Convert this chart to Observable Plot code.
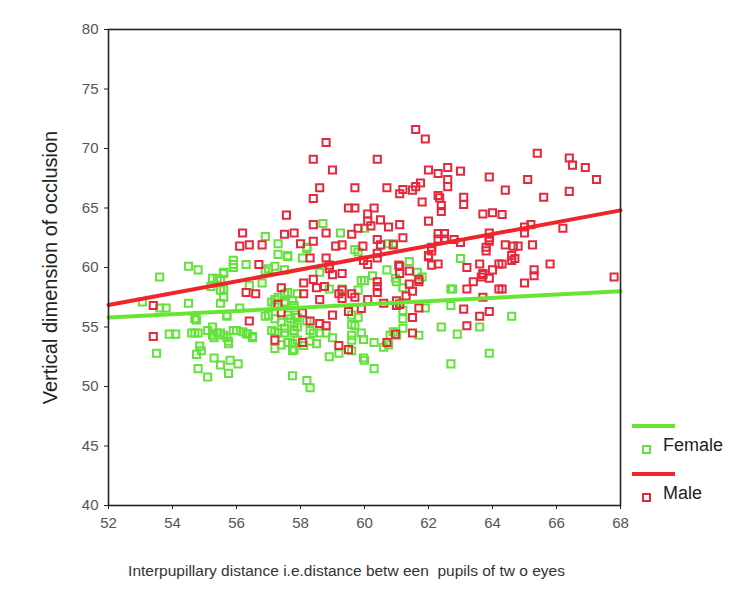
<!DOCTYPE html>
<html>
<head>
<meta charset="utf-8">
<script src="https://cdn.jsdelivr.net/npm/d3@7"></script>
<script src="https://cdn.jsdelivr.net/npm/@observablehq/plot@0.6"></script>
<style>
  body { margin: 0; background: #fff; }
  #wrap { position: relative; width: 750px; height: 610px; font-family: "Liberation Sans", Arial, sans-serif; }
  #legend { position: absolute; left: 632px; top: 418px; font-size: 18px; color: #222; }
  .row { position: relative; height: 24px; }
  .ln { position: absolute; left: 0; width: 43px; height: 4px; }
  .sym { position: absolute; left: 10px; width: 5px; height: 5px; border: 2px solid; }
  .lab { position: absolute; left: 31px; }
</style>
</head>
<body>
<div id="wrap"></div>
<script>
const xTicks = [52, 54, 56, 58, 60, 62, 64, 66, 68];
const yTicks = [40, 45, 50, 55, 60, 65, 70, 75, 80];
const seriesNames = ["Female", "Male"];
const xTitle = "Interpupillary distance i.e.distance betw een  pupils of tw o eyes";
const yTitle = "Vertical dimension of occlusion";

const female = [
[56.9,62.6],[57.3,62.0],[57.3,61.1],[57.6,60.9],[55.9,60.6],[55.9,60.25],[56.3,60.25],[57.2,60.1],[54.5,60.1],[54.8,59.8],
[56.9,59.7],[57.5,59.8],[53.6,59.2],[55.6,59.5],[55.25,59.1],[55.4,59.1],[56.8,58.7],[55.2,58.4],[55.5,58.1],[56.4,58.5],
[57.5,57.8],[55.6,57.5],[55.5,57.0],[57.2,57.3],[57.2,56.9],[57.5,57.0],[57.75,57.2],[53.06,57.1],[54.5,57.0],[53.6,56.6],
[53.8,56.6],[56.1,56.6],[54.75,55.6],[55.7,55.9],[56.9,55.9],[57.7,55.7],[57.9,55.8],[55.25,55.0],[55.1,54.7],[55.5,54.5],
[53.9,54.4],[54.1,54.4],[54.6,54.5],[54.8,54.5],[55.9,54.7],[56.2,54.6],[56.3,54.45],[57.2,54.6],[57.5,54.5],[57.8,54.7],
[55.3,54.1],[55.7,54.1],[56.5,54.1],[57.4,53.5],[57.75,53.6],[54.85,53.4],[55.75,53.6],[57.2,53.2],[57.75,53.0],[53.5,52.8],
[54.75,52.7],[54.9,53.0],[55.3,52.4],[55.8,52.2],[56.05,51.9],[55.5,51.8],[54.8,51.5],[55.75,51.1],[55.1,50.8],[57.75,50.9],
[58.7,63.7],[59.25,62.9],[60.0,63.3],[58.2,61.7],[59.7,61.5],[60.75,62.0],
[63.0,60.75],[62.7,58.2],[60.7,59.8],[61.0,58.8],[60.0,58.9],[57.9,57.8],[61.9,56.6],[63.6,55.0],[62.4,55.0],[62.9,54.4],
[61.7,54.3],[57.85,56.0],[57.8,55.4],[57.9,55.0],[57.8,54.5],[57.9,53.9],[57.8,53.1],[58.3,54.7],[58.6,54.5],[59.0,54.1],
[59.6,54.3],[59.6,53.9],[59.97,53.95],[59.7,55.1],[59.8,55.8],[60.9,54.6],[61.2,54.9],[61.0,54.3],[60.6,53.3],[58.1,53.45],
[58.9,52.5],[59.2,52.8],[59.97,52.4],[60.0,52.2],[60.3,51.5],[62.7,51.9],[58.2,50.5],[58.3,49.9],[63.9,52.8],[64.6,55.9],
[57.6,61.0],[58.06,60.8],[58.2,61.6],[59.8,61.3],[59.9,58.9],[60.25,59.3],[58.6,59.6],[57.6,57.9],[58.9,58.2],[59.3,58.2],
[59.8,58.1],[57.5,57.1],[57.8,56.8],[57.6,56.0],[57.5,54.9],[58.2,55.5],[58.4,54.5],[58.8,54.5],[57.6,53.7],[58.3,53.8],
[58.5,53.6],[59.6,56.0],[59.6,55.2],[59.9,54.5],[60.3,53.7],[60.8,54.3],[60.75,53.5],[59.6,53.0],
[60.9,62.0],[61.4,60.5],[61.65,59.6],[61.8,59.2],[60.97,59.1],[61.2,58.3],[62.75,58.2],[61.1,57.0],[61.2,56.4],[61.2,55.7],
[62.7,56.8],[55.9,60.0],[55.6,59.6],[55.5,58.9],[57.0,59.9],[55.6,58.2],[54.7,55.7],[55.7,56.0],[57.0,56.0],[57.3,57.5],
[57.1,57.1],[54.7,54.5],[55.4,54.5],[55.25,54.3],[55.6,54.3],[55.75,53.8],[56.0,54.7],[56.35,54.4],[56.5,54.2],[57.1,54.7],
[57.3,54.5],[57.4,55.4],[57.2,55.7]
];

const male = [
[57.56,64.4],[56.19,62.9],[57.5,62.8],[57.8,62.9],[56.1,61.8],[56.4,61.9],[56.8,61.9],[58.0,62.0],
[56.7,60.25],[56.3,57.9],[56.6,57.8],[57.4,58.3],[57.3,56.9],[53.4,56.8],[57.4,56.2],[56.4,55.5],[53.4,54.2],[57.2,53.9],
[61.6,71.6],[61.9,70.8],[58.8,70.5],[58.4,69.1],[60.4,69.1],[59.0,68.2],[62.0,68.2],[62.3,67.9],[62.6,68.4],[63.0,68.1],
[62.6,67.4],[62.6,66.8],[63.9,67.6],[58.6,66.7],[59.7,66.7],[60.7,66.7],[61.1,66.2],[61.2,66.55],[61.5,66.5],[61.6,66.8],
[61.75,67.1],[58.4,65.8],[62.3,66.05],[62.35,65.85],[63.1,65.9],[63.1,65.3],[61.8,65.5],[62.4,65.2],[62.4,64.7],[63.7,64.5],
[59.5,65.0],[59.7,65.0],[60.3,65.0],[60.1,64.5],[60.1,63.9],[60.5,64.0],[60.75,63.4],[61.1,63.6],[62.0,63.9],[58.4,63.6],
[58.8,62.9],[59.6,62.8],[59.8,63.3],[60.2,63.5],[58.4,62.2],[59.1,61.8],[59.3,61.9],[59.95,61.8],[60.4,62.35],[60.5,61.9],
[60.9,61.9],[61.2,62.5],[62.3,62.85],[62.5,62.85],[62.3,62.4],[62.5,62.4],[62.8,62.35],[63.0,62.1],[62.1,61.7],[63.8,61.7],
[63.9,62.5],
[58.3,60.8],[58.8,60.8],[58.9,60.2],[59.0,59.4],[59.3,59.5],[59.97,60.6],[60.1,60.25],[60.4,60.8],[61.1,60.1],[61.1,59.5],
[61.4,59.7],[61.4,58.6],[61.7,58.8],[62.0,61.0],[62.1,60.2],[62.3,60.3],[63.2,60.0],[63.6,60.3],[63.7,59.4],[63.4,58.8],
[63.2,58.2],[63.9,59.1],[60.4,58.8],[60.4,58.4],[60.4,57.9],[61.5,58.0],[58.1,58.7],[58.4,59.0],[58.5,58.3],[58.75,58.4],
[58.1,57.8],[59.3,58.1],[59.6,57.8],[59.3,57.4],[59.7,57.5],[59.2,57.8],[58.6,57.3],[60.1,57.3],[60.6,57.0],[61.0,57.2],
[61.1,56.9],[59.5,56.3],[59.9,56.55],[61.7,56.6],[63.7,57.5],[63.1,56.5],[63.6,55.9],[63.2,55.1],[61.5,55.8],[61.5,54.5],
[58.06,56.2],[58.3,55.5],[58.6,55.3],[58.8,55.1],[59.0,56.0],[60.97,54.4],[60.7,53.7],[59.2,53.45],[59.5,53.1],[58.06,53.7],
[65.4,69.6],[66.4,69.2],[66.5,68.6],[66.9,68.4],[67.25,67.4],[65.1,67.4],[64.4,66.5],[66.4,66.4],[65.6,65.9],[64.0,64.6],
[64.3,64.45],[66.2,63.3],[63.9,62.9],[63.9,62.3],[65.0,62.9],[65.0,63.4],[65.2,63.6],[64.4,61.9],[64.65,61.8],[64.8,61.8],
[65.25,61.9],[63.8,61.4],[64.6,61.0],[64.6,60.6],[64.7,60.75],[64.0,59.8],[64.3,60.3],[65.8,60.3],[63.7,59.5],[65.3,59.8],
[65.3,59.3],[65.0,58.7],[64.3,58.2],[67.8,59.2],[63.9,56.3],
[62.1,61.4],[62.0,60.9],[61.7,59.0],[61.3,57.6],[64.2,60.3],[63.65,59.2],[64.2,58.2],[61.0,56.8],[63.9,62.2],[58.9,59.9],
[60.4,61.2],[61.07,60.2]
];

// fit line endpoints
const femaleFit = [[52, 55.8], [68, 58.0]];
const maleFit = [[52, 56.85], [68, 64.8]];

const GREEN = "#62e23a";
const RED = "#e6283c";
const GREEN_LINE = "#66e633";
const RED_LINE = "#f0252a";

const chart = Plot.plot({
  width: 750,
  height: 610,
  marginLeft: 108,
  marginRight: 130,
  marginTop: 29,
  marginBottom: 105,
  style: { fontFamily: "Liberation Sans, Arial, sans-serif", background: "#fff" },
  x: { domain: [52, 68] },
  y: { domain: [40, 80] },
  marks: [
    Plot.dot(female, { x: d => d[0], y: d => d[1], symbol: "square", r: 4, stroke: GREEN, strokeWidth: 2, fill: "none" }),
    Plot.dot(male, { x: d => d[0], y: d => d[1], symbol: "square", r: 4, stroke: RED, strokeWidth: 2, fill: "none" }),
    Plot.line(femaleFit, { x: d => d[0], y: d => d[1], stroke: GREEN_LINE, strokeWidth: 4 }),
    Plot.line(maleFit, { x: d => d[0], y: d => d[1], stroke: RED_LINE, strokeWidth: 4 }),
    Plot.frame({ stroke: "#222", strokeWidth: 1.6 }),
    Plot.axisX({ ticks: xTicks, tickSize: 4, tickPadding: 8, fontSize: 15, stroke: "#222", fill: "#555",
      label: xTitle, labelAnchor: "center", labelOffset: 70, labelArrow: "none" }),
    Plot.axisY({ ticks: yTicks, tickSize: 4, tickPadding: 6, fontSize: 15, stroke: "#222", fill: "#555",
      label: yTitle, labelAnchor: "center", labelOffset: 66, labelArrow: "none" })
  ]
});

const wrap = document.getElementById("wrap");
wrap.appendChild(chart);

// style axis titles
chart.querySelectorAll("text").forEach(t => {
  if (t.textContent === yTitle) { t.setAttribute("font-size", "20"); t.style.fill = "#222"; }
  if (t.textContent === xTitle) { t.setAttribute("font-size", "15.5"); t.setAttribute("dx", "-18"); t.style.fill = "#333"; }
});

const legend = document.createElement("div");
legend.id = "legend";
const cols = [[GREEN_LINE, GREEN], [RED_LINE, RED]];
seriesNames.forEach((name, i) => {
  const r1 = document.createElement("div");
  r1.className = "row";
  r1.innerHTML = `<div class="ln" style="background:${cols[i][0]};top:6px"></div>`;
  const r2 = document.createElement("div");
  r2.className = "row";
  r2.innerHTML = `<div class="sym" style="border-color:${cols[i][1]};top:3px"></div><div class="lab" style="top:-7px">${name}</div>`;
  legend.appendChild(r1);
  legend.appendChild(r2);
});
wrap.appendChild(legend);
</script>
</body>
</html>
